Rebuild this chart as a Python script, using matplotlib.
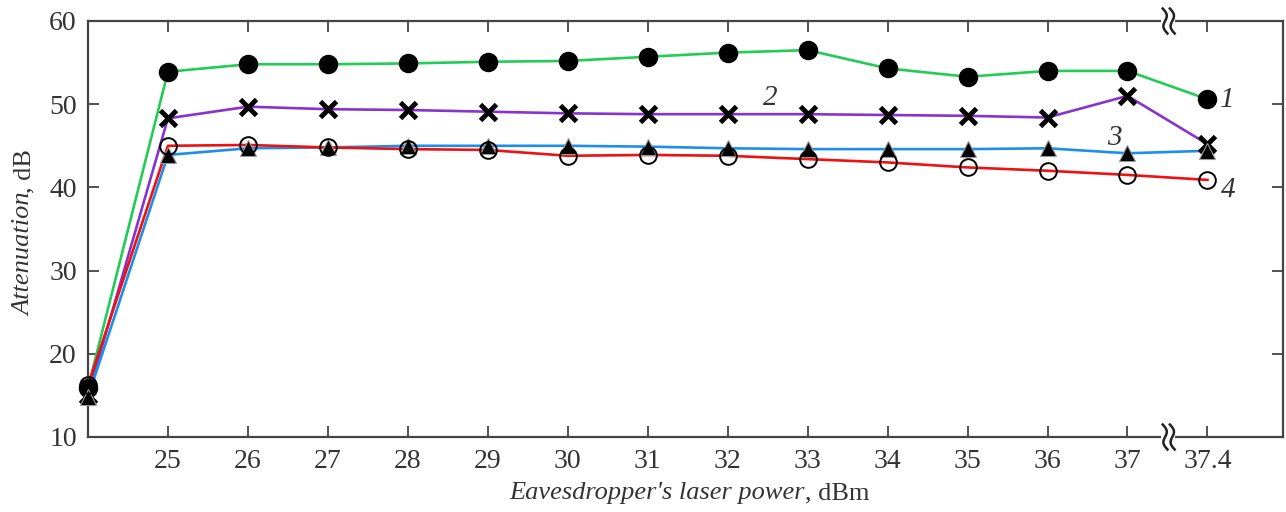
import numpy as np
import matplotlib
matplotlib.use("Agg")
import matplotlib.pyplot as plt
import matplotlib.transforms as mtransforms

plt.rcParams['font.family'] = ['Liberation Serif', 'DejaVu Serif']

# x categories (first point is unlabeled)
power_labels = ["", "25", "26", "27", "28", "29", "30", "31", "32", "33",
                "34", "35", "36", "37", "37.4"]

curve1 = [15.9, 53.9, 54.8, 54.8, 54.9, 55.1, 55.2, 55.7, 56.2, 56.5, 54.3, 53.3, 54.0, 54.0, 50.6]
curve2 = [15.0, 48.3, 49.7, 49.4, 49.3, 49.1, 48.9, 48.8, 48.8, 48.8, 48.7, 48.6, 48.4, 51.0, 45.2]
curve3 = [14.8, 43.9, 44.7, 44.8, 45.0, 45.0, 45.0, 44.9, 44.7, 44.6, 44.6, 44.6, 44.7, 44.1, 44.4]
curve4 = [16.2, 45.0, 45.1, 44.8, 44.6, 44.5, 43.8, 43.9, 43.8, 43.4, 43.0, 42.4, 42.0, 41.5, 40.9]

x = np.arange(len(power_labels))
txt = "#333333"

fig = plt.figure(figsize=(12.86, 5.12), dpi=100)
ax = fig.add_axes([0.0684, 0.1465, 0.9296, 0.8125])

lines = [
    (curve1, "#22cc55", dict(marker="o", ms=13, mfc="black", mec="black")),
    (curve2, "#8833cc", dict(marker="x", ms=12, mec="black", mew=3.5)),
    (curve3, "#1e8fe8", dict(marker="^", ms=12, mfc="black", mec="#999999", mew=0.8)),
    (curve4, "#ee1111", dict(marker="o", ms=12, mfc="none", mec="black", mew=1.4)),
]
for y, c, _ in lines:
    ax.plot(x, y, color=c, lw=1.9, zorder=2)
for y, c, mk in lines:
    ax.plot(x, y, ls="none", zorder=3, clip_on=False, **mk)

ax.set_xlim(0, 14.95)
ax.set_ylim(10, 60)
ax.set_xticks(x[1:])
ax.set_xticklabels(power_labels[1:])
ax.set_yticks([10, 20, 30, 40, 50, 60])

ax.tick_params(direction="in", length=8, width=1.3, colors="#444444",
               labelcolor=txt, labelsize=20, top=True, right=True)
ax.tick_params(axis="x", pad=9)
ax.tick_params(axis="y", pad=8)
for s in ax.spines.values():
    s.set_color("#444444")
    s.set_linewidth(1.6)

# axis titles: italic name + upright unit
fig.text(0.626, 0.037, "Eavesdropper's laser power", fontsize=19, style="italic",
         color=txt, ha="right", va="center")
fig.text(0.626, 0.037, ", dBm", fontsize=19, color=txt, ha="left", va="center")
fig.text(0.019, 0.624, "Attenuation", fontsize=19, style="italic", rotation=90,
         color=txt, ha="center", va="top")
fig.text(0.019, 0.624, ", dB", fontsize=19, rotation=90, color=txt,
         ha="center", va="bottom")

# curve numbers
ax.text(14.15, 50.5, "1", fontsize=21, style="italic", color=txt, va="center")
ax.text(8.44, 50.7, "2", fontsize=21, style="italic", color=txt, va="center")
ax.text(12.75, 45.9, "3", fontsize=21, style="italic", color=txt, va="center")
ax.text(14.17, 39.7, "4", fontsize=21, style="italic", color=txt, va="center")

# axis break marks between 37 and 37.4
trans = mtransforms.blended_transform_factory(ax.transData, ax.transAxes)
t = np.linspace(-1, 1, 40)
for yb in (0.0, 1.0):
    ax.add_patch(plt.Rectangle((13.42, yb - 0.012), 0.18, 0.024, transform=trans,
                               facecolor="white", edgecolor="none", clip_on=False, zorder=5))
    for dx in (13.47, 13.56):
        ax.plot(dx - 0.03 * t + 0.035 * np.sin(t * np.pi), yb + 0.03 * t, transform=trans,
                color="#222222", lw=1.8, clip_on=False, zorder=6)

fig.savefig("out.png", dpi=100)
